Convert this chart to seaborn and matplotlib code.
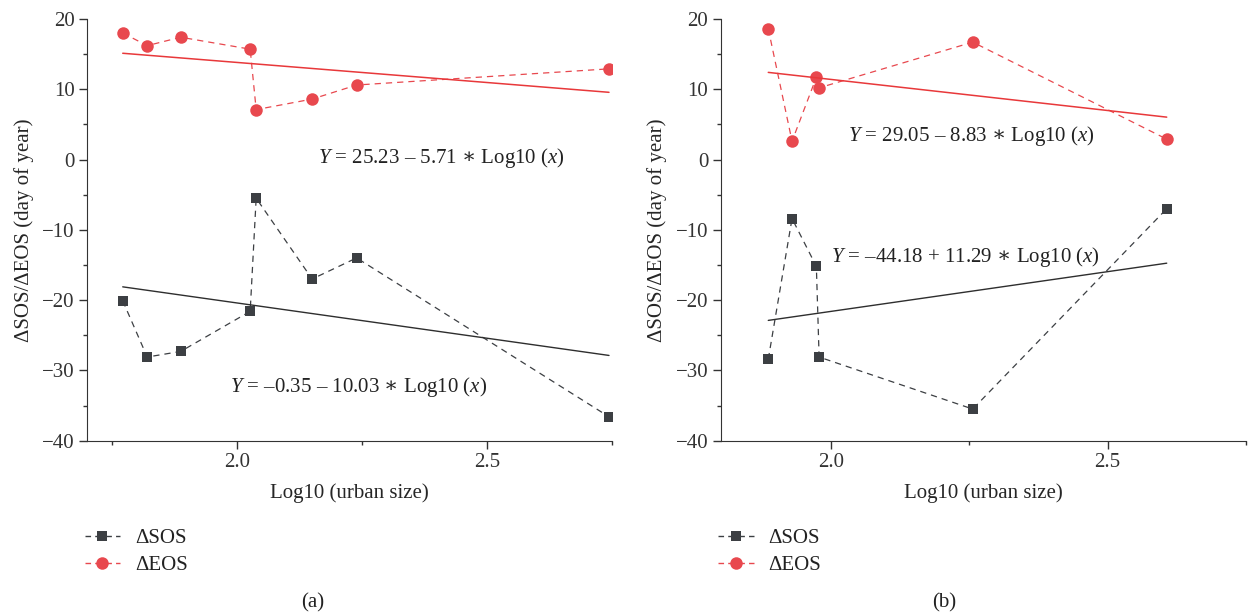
import matplotlib
matplotlib.use("Agg")
import matplotlib.pyplot as plt
from matplotlib.lines import Line2D
from matplotlib.ticker import MultipleLocator
import seaborn as sns
import pandas as pd
import numpy as np

# panel (a) values
a_x = [1.771, 1.820, 1.887, 2.026, 2.038, 2.150, 2.239, 2.744]
a_sos = [-20.1, -28.1, -27.3, -21.6, -5.5, -17.0, -14.0, -36.6]
a_eos = [18.0, 16.2, 17.4, 15.7, 7.1, 8.6, 10.6, 12.9]
a_sos_fit = (-0.35, -10.03)
a_eos_fit = (25.23, -5.71)

# panel (b)
b_x = [1.886, 1.929, 1.973, 1.978, 2.256, 2.607]
b_sos = [-28.4, -8.4, -15.2, -28.1, -35.5, -7.0]
b_eos = [18.6, 2.6, 11.7, 10.2, 16.7, 2.9]
b_sos_fit = (-44.18, 11.29)
b_eos_fit = (29.05, -8.83)

STAR = r"$\mathsf{\ast}$"
a_eqs = [r"$\mathit{Y}$ = 25.23 – 5.71 " + STAR + r" Log10 ($\mathit{x}$)",
         r"$\mathit{Y}$ = –0.35 – 10.03 " + STAR + r" Log10 ($\mathit{x}$)"]
b_eqs = [r"$\mathit{Y}$ = 29.05 – 8.83 " + STAR + r" Log10 ($\mathit{x}$)",
         r"$\mathit{Y}$ = –44.18 + 11.29 " + STAR + r" Log10 ($\mathit{x}$)"]

GREY = "#3c3f43"
RED = "#e8484e"
RED_LINE = "#e8383a"

sns.set_style("ticks")
plt.rcParams["font.family"] = ["Liberation Serif", "DejaVu Serif"]
plt.rcParams["mathtext.fontset"] = "custom"
plt.rcParams["mathtext.rm"] = "Liberation Serif"
plt.rcParams["mathtext.it"] = "Liberation Serif:italic"
plt.rcParams["mathtext.sf"] = "DejaVu Serif"
plt.rcParams["axes.edgecolor"] = "#333333"
plt.rcParams["xtick.color"] = "#333333"
plt.rcParams["ytick.color"] = "#333333"
plt.rcParams["text.color"] = "#222222"

FS = 15


def draw_panel(ax, x, sos, eos, sos_fit, eos_fit, eqs, eq_pos, xlim):
	df = pd.DataFrame({"x": x, "sos": sos, "eos": eos})
	sns.lineplot(data=df, x="x", y="sos", ax=ax, sort=False, color=GREY,
			marker="s", markersize=7.8, markeredgewidth=0, linewidth=0.9,
			dashes=False, linestyle=(0, (5, 4)))
	sns.lineplot(data=df, x="x", y="eos", ax=ax, sort=False, color=RED,
			marker="o", markersize=9, markeredgewidth=0, linewidth=0.9,
			dashes=False, linestyle=(0, (5, 4)))
	# fitted lines from the printed equations
	xf = np.array([min(x), max(x)])
	fit = pd.DataFrame({"x": xf,
			"sos": sos_fit[0] + sos_fit[1] * xf,
			"eos": eos_fit[0] + eos_fit[1] * xf})
	sns.lineplot(data=fit, x="x", y="eos", ax=ax, color=RED_LINE, linewidth=1.1)
	sns.lineplot(data=fit, x="x", y="sos", ax=ax, color="#2e2e2e", linewidth=1.0)

	for txt, (tx, ty) in zip(eqs, eq_pos):
		ax.text(tx, ty, txt, fontsize=FS, ha="left", va="center")

	ax.set_xlim(*xlim)
	ax.set_ylim(-40, 20)
	ax.xaxis.set_major_locator(MultipleLocator(0.5))
	ax.xaxis.set_minor_locator(MultipleLocator(0.25))
	ax.yaxis.set_major_locator(MultipleLocator(10))
	ax.yaxis.set_minor_locator(MultipleLocator(5))
	ax.xaxis.set_major_formatter(matplotlib.ticker.FormatStrFormatter("%.1f"))
	ax.tick_params(which="major", length=5.5, width=1, labelsize=FS)
	ax.tick_params(which="minor", length=3, width=1)
	ax.set_xlabel("Log10 (urban size)", fontsize=FS, labelpad=8)
	ax.set_ylabel("ΔSOS/ΔEOS (day of year)", fontsize=FS, labelpad=6)
	sns.despine(ax=ax)


fig = plt.figure(figsize=(12.5, 6.13), dpi=100)
ax1 = fig.add_axes([0.0698, 0.2811, 0.4198, 0.688])
ax2 = fig.add_axes([0.5766, 0.2811, 0.42, 0.688])

draw_panel(ax1, a_x, a_sos, a_eos, a_sos_fit, a_eos_fit, a_eqs,
		[(2.161, 0.25), (1.985, -32.3)], (1.70, 2.75))
draw_panel(ax2, b_x, b_sos, b_eos, b_sos_fit, b_eos_fit, b_eqs,
		[(2.031, 3.4), (1.999, -13.8)], (1.80, 2.75))

handles = [
	Line2D([], [], color=GREY, marker="s", markersize=7.8, markeredgewidth=0,
		linewidth=1.0, linestyle=(0.5, (4.5, 3))),
	Line2D([], [], color=RED, marker="o", markersize=9, markeredgewidth=0,
		linewidth=1.0, linestyle=(0.5, (4.5, 3))),
]
for lx in [0.0698, 0.5766]:
	fig.legend(handles, ["ΔSOS", "ΔEOS"], loc="upper left",
			bbox_to_anchor=(lx - 0.002, 0.138), frameon=False, fontsize=FS,
			handlelength=1.7, handletextpad=0.7, labelspacing=0.35,
			borderpad=0, borderaxespad=0)
fig.text(0.25, 0.016, "(a)", fontsize=FS, ha="center", va="center")
fig.text(0.755, 0.016, "(b)", fontsize=FS, ha="center", va="center")

fig.savefig("out.png", dpi=100)
